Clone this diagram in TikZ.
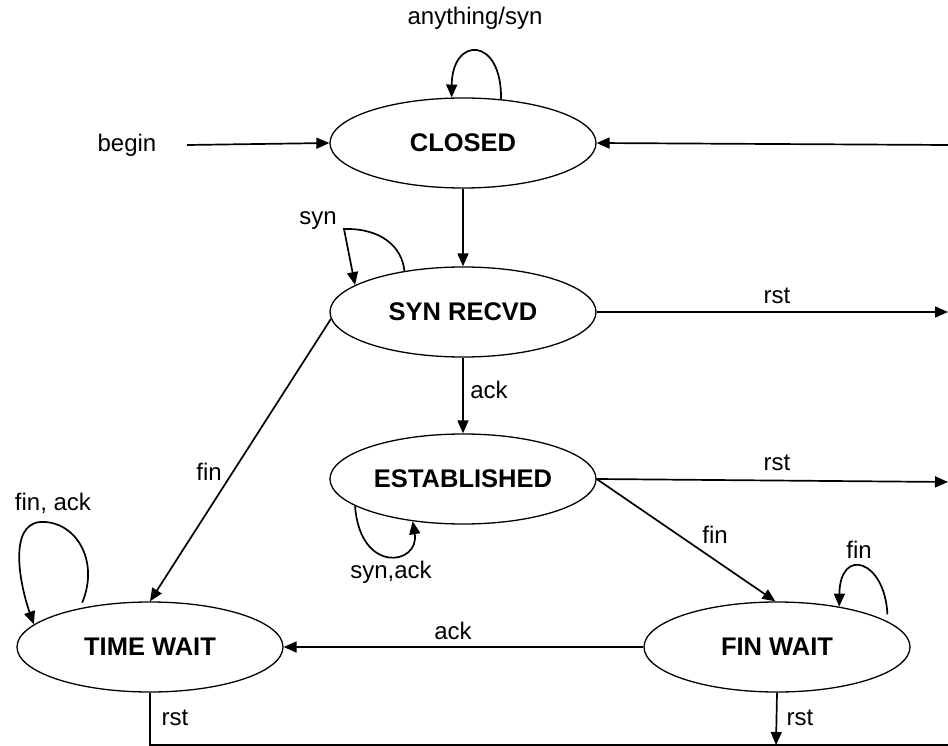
\documentclass[tikz,border=0pt]{standalone}
\usepackage{fontspec}
\setmainfont{Liberation Sans}
\usetikzlibrary{shapes.geometric,arrows.meta}
\begin{document}
\begin{tikzpicture}[x=1pt,y=-1pt,
  state/.style={draw, ellipse, line width=1.3pt, minimum width=266pt,
    minimum height=90pt, inner sep=0pt,
    font=\fontsize{25.5pt}{30pt}\selectfont\bfseries},
  lbl/.style={font=\fontsize{24pt}{28pt}\selectfont, inner sep=0pt},
  edge/.style={line width=1.7pt, -{Triangle[length=13pt,width=11pt]}},
  plain/.style={line width=1.7pt}]
\useasboundingbox[fill=white] (0,0) rectangle (948,746);

% states
\node[state] (closed)      at (463,143) {CLOSED};
\node[state] (synrecvd)    at (463,312) {SYN RECVD};
\node[state] (established) at (463,479) {ESTABLISHED};
\node[state] (timewait)    at (150,647) {TIME WAIT};
\node[state] (finwait)     at (777,647) {FIN WAIT};

% free ends of the outer connectors
\coordinate (beginend) at (187,145);
\coordinate (rin)      at (948,145);
\coordinate (rout1)    at (948,312);
\coordinate (rout2)    at (948,482);
\coordinate (finrst)   at (776,745);
\coordinate (bottomL)  at (150,745);
\coordinate (bottomR)  at (948,745);

% transitions
\draw[edge] (beginend) -- (closed.west);
\draw[edge] (rin) -- (closed.east);
\draw[edge] (closed.south) -- (synrecvd.north);
\draw[edge] (synrecvd.east) -- (rout1);
\draw[edge] (synrecvd.south) -- (established.north);
\draw[edge] (established.east) -- (rout2);
\draw[edge] (established.east) -- (finwait.92);
\draw[edge] (synrecvd.183) -- (timewait.north);
\draw[edge] (finwait.west) -- (timewait.east);
\draw[edge] (finwait.south) -- (finrst);
\draw[plain] (timewait.south) -- (bottomL) -- (bottomR);

% self loops
\draw[edge] (closed.49) .. controls (502,36) and (452,36) .. (closed.104);
\draw[edge] (synrecvd.145) .. controls (402,246) and (380,228) .. (344,229)
  -- (synrecvd.166);
\draw[edge] (established.-166) .. controls (360,575) and (420,565) .. (established.-140);
\draw[edge, shorten <=6pt] (timewait.151) .. controls (100,560) and (75,520) .. (40,522)
  .. controls (8,525) and (20,585) .. (timewait.169);
\draw[edge, shorten <=7pt] (finwait.13) .. controls (885,560) and (840,546) .. (finwait.33);

% labels
\node[lbl] (lanything) at (475,18)  {anything/syn};
\node[lbl] (lbegin)    at (127,145) {begin};
\node[lbl] (lsyn)      at (318,221) {syn};
\node[lbl] (lrst1)     at (777,296) {rst};
\node[lbl] (lack1)     at (489,390) {ack};
\node[lbl] (lrst2)     at (777,463) {rst};
\node[lbl] (lfin1)     at (209,472) {fin};
\node[lbl] (lsynack)   at (391,572) {syn,ack};
\node[lbl] (lfinack)   at (53,503)  {fin, ack};
\node[lbl] (lfin2)     at (715,535) {fin};
\node[lbl] (lfin3)     at (859,550) {fin};
\node[lbl] (lack2)     at (453,631) {ack};
\node[lbl] (lrst3)     at (175,718) {rst};
\node[lbl] (lrst4)     at (800,718) {rst};
\end{tikzpicture}
\end{document}
